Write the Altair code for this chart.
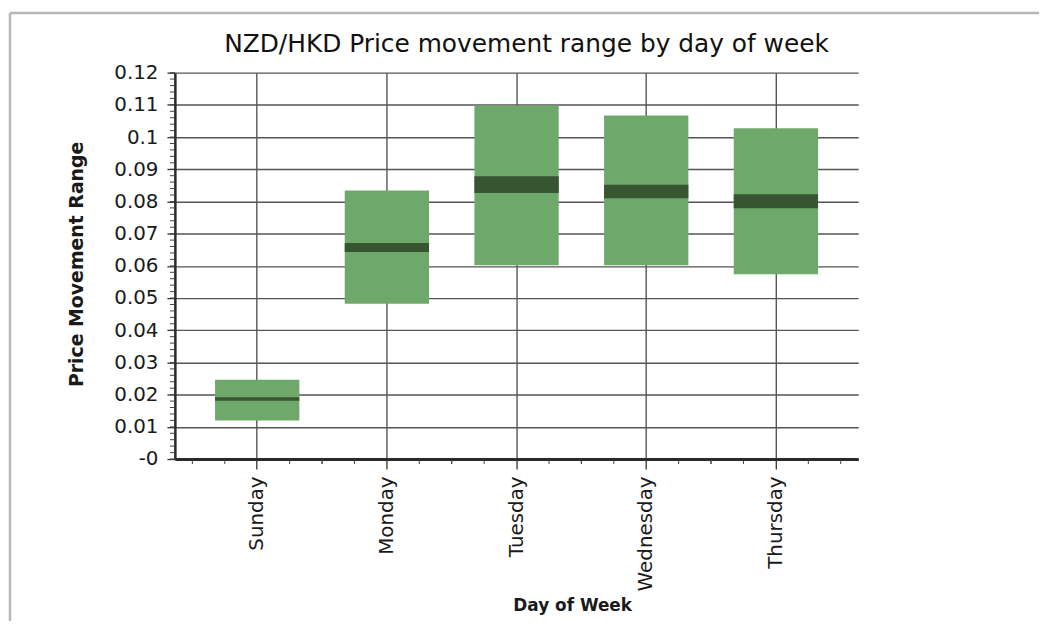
import altair as alt
import pandas as pd

# ---- data ----
days = ["Sunday", "Monday", "Tuesday", "Wednesday", "Thursday"]
box_low = [0.0120, 0.0482, 0.0602, 0.0602, 0.0574]
box_high = [0.0246, 0.0834, 0.1098, 0.1067, 0.1027]
median_low = [0.0181, 0.0643, 0.0826, 0.0810, 0.0779]
median_high = [0.0192, 0.0671, 0.0878, 0.0852, 0.0822]
y_ticks = [0.0, 0.01, 0.02, 0.03, 0.04, 0.05, 0.06, 0.07, 0.08, 0.09, 0.10, 0.11, 0.12]

title_text = "NZD/HKD Price movement range by day of week"
x_title = "Day of Week"
y_title = "Price Movement Range"

W, H = 688, 389
P_IN, P_OUT = 0.35, 0.31
STEP = W / (len(days) - P_IN + 2 * P_OUT)
FONT = "DejaVu Sans"

df = pd.DataFrame({"day": days, "low": box_low, "high": box_high,
                   "mlo": median_low, "mhi": median_high})
one = alt.Data(values=[{"k": 1}])

x_scale = alt.Scale(domain=days, paddingInner=P_IN, paddingOuter=P_OUT)
y_scale = alt.Scale(domain=[0, 0.12], nice=False, zero=True)

x_axis = alt.Axis(
    title=x_title, labelAngle=270, labelFontSize=20, labelColor="#1a1a1a",
    labelPadding=7, tickSize=10, tickColor="#333", tickWidth=1.3,
    domainColor="#2a2a2a", domainWidth=3, grid=True, gridColor="#555",
    gridWidth=1.4, bandPosition=0.5, titleFontSize=17, titleFontWeight="bold",
    titleColor="#1a1a1a", titleY=147, titleX=400, titleBaseline="middle",
    titleAlign="center",
)
y_axis = alt.Axis(
    title=y_title, values=y_ticks,
    labelExpr="datum.value == 0 ? '-0' : format(datum.value, '~g')",
    labelFontSize=20, labelColor="#1a1a1a", labelPadding=9, tickSize=8,
    tickColor="#333", tickWidth=1.3, domainColor="#2a2a2a", domainWidth=2.5,
    grid=True, gridColor="#555", gridWidth=1.4, titleFontSize=19,
    titleFontWeight="bold", titleColor="#1a1a1a", titleAngle=270, titleX=-99,
    titleY=H / 2 - 2, titleBaseline="middle", titleAlign="center",
)

X = alt.X("day:N", sort=days, scale=x_scale, axis=x_axis)

boxes = alt.Chart(df).mark_bar(color="#6fa86b").encode(
    x=X,
    y=alt.Y("low:Q", scale=y_scale, axis=y_axis),
    y2="high:Q",
)
medians = alt.Chart(df).mark_bar(color="#375530").encode(
    x=X,
    y=alt.Y("mlo:Q", scale=y_scale, axis=y_axis),
    y2="mhi:Q",
)

x_minor = [
    alt.Chart(df).mark_rule(color="#444", strokeWidth=1, xOffset=k * STEP / 4).encode(
        x=X, y=alt.value(H + 1), y2=alt.value(H + 5),
    )
    for k in (-2, -1, 1, 2)
]
y_minor = alt.Chart(alt.sequence(0, 0.1201, 0.002, as_="v")).mark_rule(
    color="#444", strokeWidth=1
).encode(y=alt.Y("v:Q", scale=y_scale, axis=y_axis), x=alt.value(-5), x2=alt.value(0))

frame_left = alt.Chart(one).mark_rule(color="#b8b8b8", strokeWidth=2.5).encode(
    x=alt.value(-166), y=alt.value(-60), y2=alt.value(552)
)
frame_top = alt.Chart(one).mark_rule(color="#b8b8b8", strokeWidth=2.5).encode(
    x=alt.value(-166), x2=alt.value(870), y=alt.value(-60)
)
title = alt.Chart(one).mark_text(
    text=title_text, font=FONT, fontSize=25, color="#111",
    align="center", baseline="middle",
).encode(x=alt.value(354), y=alt.value(-29))

chart = alt.layer(
    boxes, medians, *x_minor, y_minor, frame_left, frame_top, title
).properties(
    width=W, height=H,
    padding={"left": 0, "top": 1, "right": 0, "bottom": 0},
    background="white",
).configure_view(stroke=None).configure_axis(labelFont=FONT, titleFont=FONT)

chart.save("out.html", embed_options={"renderer": "svg", "actions": False})
